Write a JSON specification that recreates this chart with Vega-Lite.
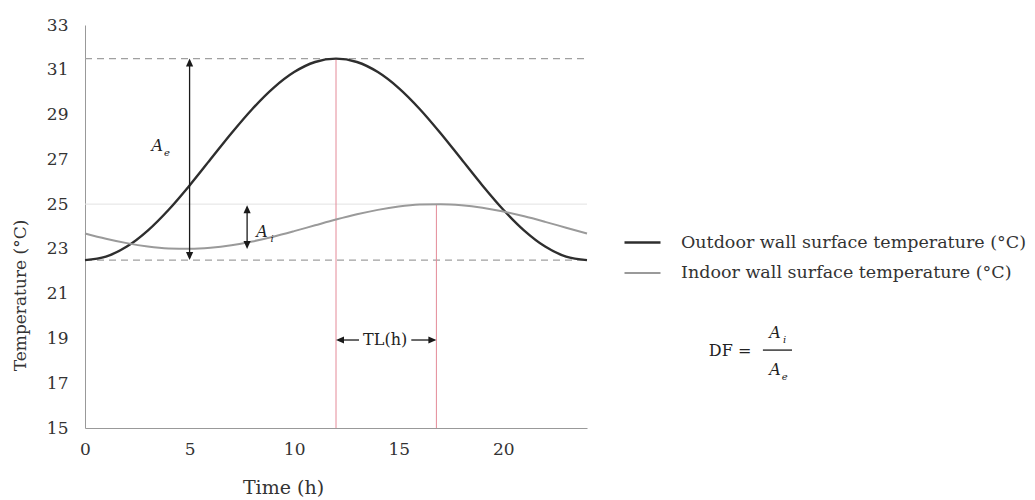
{
  "$schema": "https://vega.github.io/schema/vega-lite/v6.json",
  "width": 502,
  "height": 403,
  "autosize": {"type": "none"},
  "padding": {"left": 85, "top": 25, "right": 448, "bottom": 72},
  "background": "white",
  "config": {
    "view": {"stroke": null},
    "font": "DejaVu Serif",
    "axis": {
      "labelFont": "DejaVu Serif",
      "titleFont": "DejaVu Serif",
      "labelColor": "#333",
      "titleColor": "#333",
      "titleFontWeight": "normal",
      "domainColor": "#999",
      "ticks": false,
      "tickSize": 0,
      "grid": false,
      "labelFlush": false
    }
  },
  "datasets": {
    "curves": [
      {"t": 0, "temp": 22.5, "series": "Outdoor wall surface temperature (°C)"},
      {"t": 1, "temp": 22.653, "series": "Outdoor wall surface temperature (°C)"},
      {"t": 2, "temp": 23.103, "series": "Outdoor wall surface temperature (°C)"},
      {"t": 3, "temp": 23.818, "series": "Outdoor wall surface temperature (°C)"},
      {"t": 4, "temp": 24.75, "series": "Outdoor wall surface temperature (°C)"},
      {"t": 5, "temp": 25.835, "series": "Outdoor wall surface temperature (°C)"},
      {"t": 6, "temp": 27.0, "series": "Outdoor wall surface temperature (°C)"},
      {"t": 7, "temp": 28.165, "series": "Outdoor wall surface temperature (°C)"},
      {"t": 8, "temp": 29.25, "series": "Outdoor wall surface temperature (°C)"},
      {"t": 9, "temp": 30.182, "series": "Outdoor wall surface temperature (°C)"},
      {"t": 10, "temp": 30.897, "series": "Outdoor wall surface temperature (°C)"},
      {"t": 11, "temp": 31.347, "series": "Outdoor wall surface temperature (°C)"},
      {"t": 12, "temp": 31.5, "series": "Outdoor wall surface temperature (°C)"},
      {"t": 13, "temp": 31.347, "series": "Outdoor wall surface temperature (°C)"},
      {"t": 14, "temp": 30.897, "series": "Outdoor wall surface temperature (°C)"},
      {"t": 15, "temp": 30.182, "series": "Outdoor wall surface temperature (°C)"},
      {"t": 16, "temp": 29.25, "series": "Outdoor wall surface temperature (°C)"},
      {"t": 17, "temp": 28.165, "series": "Outdoor wall surface temperature (°C)"},
      {"t": 18, "temp": 27.0, "series": "Outdoor wall surface temperature (°C)"},
      {"t": 19, "temp": 25.835, "series": "Outdoor wall surface temperature (°C)"},
      {"t": 20, "temp": 24.75, "series": "Outdoor wall surface temperature (°C)"},
      {"t": 21, "temp": 23.818, "series": "Outdoor wall surface temperature (°C)"},
      {"t": 22, "temp": 23.103, "series": "Outdoor wall surface temperature (°C)"},
      {"t": 23, "temp": 22.653, "series": "Outdoor wall surface temperature (°C)"},
      {"t": 24, "temp": 22.5, "series": "Outdoor wall surface temperature (°C)"},
      {"t": 0, "temp": 23.691, "series": "Indoor wall surface temperature (°C)"},
      {"t": 1, "temp": 23.455, "series": "Indoor wall surface temperature (°C)"},
      {"t": 2, "temp": 23.257, "series": "Indoor wall surface temperature (°C)"},
      {"t": 3, "temp": 23.109, "series": "Indoor wall surface temperature (°C)"},
      {"t": 4, "temp": 23.022, "series": "Indoor wall surface temperature (°C)"},
      {"t": 5, "temp": 23.001, "series": "Indoor wall surface temperature (°C)"},
      {"t": 6, "temp": 23.049, "series": "Indoor wall surface temperature (°C)"},
      {"t": 7, "temp": 23.161, "series": "Indoor wall surface temperature (°C)"},
      {"t": 8, "temp": 23.331, "series": "Indoor wall surface temperature (°C)"},
      {"t": 9, "temp": 23.546, "series": "Indoor wall surface temperature (°C)"},
      {"t": 10, "temp": 23.792, "series": "Indoor wall surface temperature (°C)"},
      {"t": 11, "temp": 24.052, "series": "Indoor wall surface temperature (°C)"},
      {"t": 12, "temp": 24.309, "series": "Indoor wall surface temperature (°C)"},
      {"t": 13, "temp": 24.545, "series": "Indoor wall surface temperature (°C)"},
      {"t": 14, "temp": 24.743, "series": "Indoor wall surface temperature (°C)"},
      {"t": 15, "temp": 24.891, "series": "Indoor wall surface temperature (°C)"},
      {"t": 16, "temp": 24.978, "series": "Indoor wall surface temperature (°C)"},
      {"t": 17, "temp": 24.999, "series": "Indoor wall surface temperature (°C)"},
      {"t": 18, "temp": 24.951, "series": "Indoor wall surface temperature (°C)"},
      {"t": 19, "temp": 24.839, "series": "Indoor wall surface temperature (°C)"},
      {"t": 20, "temp": 24.669, "series": "Indoor wall surface temperature (°C)"},
      {"t": 21, "temp": 24.454, "series": "Indoor wall surface temperature (°C)"},
      {"t": 22, "temp": 24.208, "series": "Indoor wall surface temperature (°C)"},
      {"t": 23, "temp": 23.948, "series": "Indoor wall surface temperature (°C)"},
      {"t": 24, "temp": 23.691, "series": "Indoor wall surface temperature (°C)"}
    ],
    "refLight": [{"y": 25, "x1": 0, "x2": 24}],
    "refDashed": [
      {"y": 31.5, "x1": 0, "x2": 24},
      {"y": 22.5, "x1": 0, "x2": 24}
    ],
    "redLines": [
      {"x": 12, "y1": 15, "y2": 31.5},
      {"x": 16.8, "y1": 15, "y2": 25}
    ],
    "shafts": [
      {"x1": 5, "x2": 5, "y1": 22.6, "y2": 31.4},
      {"x1": 7.75, "x2": 7.75, "y1": 23.1, "y2": 24.85},
      {"x1": 12.1, "x2": 13.1, "y1": 18.93, "y2": 18.93},
      {"x1": 15.6, "x2": 16.7, "y1": 18.93, "y2": 18.93},
      {"x1": 32.41, "x2": 33.8, "y1": 18.48, "y2": 18.48}
    ],
    "heads": [
      {"x": 5, "y": 31.5, "dir": "up"},
      {"x": 5, "y": 22.5, "dir": "down"},
      {"x": 7.75, "y": 24.95, "dir": "up"},
      {"x": 7.75, "y": 23.0, "dir": "down"},
      {"x": 12.0, "y": 18.93, "dir": "left"},
      {"x": 16.8, "y": 18.93, "dir": "right"}
    ],
    "italicA": [
      {"x": 3.45, "y": 27.6, "label": "A"},
      {"x": 8.46, "y": 23.75, "label": "A"},
      {"x": 32.99, "y": 19.24, "label": "A"},
      {"x": 32.99, "y": 17.59, "label": "A"}
    ],
    "subs": [
      {"x": 3.92, "y": 27.3, "label": "e"},
      {"x": 8.95, "y": 23.45, "label": "i"},
      {"x": 33.45, "y": 18.94, "label": "i"},
      {"x": 33.45, "y": 17.29, "label": "e"}
    ],
    "plainText": [
      {"x": 14.35, "y": 18.93, "label": "TL(h)"},
      {"x": 30.84, "y": 18.42, "label": "DF ="}
    ]
  },
  "layer": [
    {
      "data": {"name": "refLight"},
      "mark": {"type": "rule", "color": "#e2e2e2", "strokeWidth": 1},
      "encoding": {
        "x": {"field": "x1", "type": "quantitative", "scale": {"domain": [0, 24], "nice": false, "zero": false},
          "axis": {"values": [0, 5, 10, 15, 20], "labelFontSize": 17, "labelPadding": 13, "title": "Time (h)", "titleFontSize": 19, "titleX": 198, "titleY": 59, "titleBaseline": "middle"}},
        "x2": {"field": "x2"},
        "y": {"field": "y", "type": "quantitative", "scale": {"domain": [15, 33], "nice": false, "zero": false},
          "axis": {"values": [15, 17, 19, 21, 23, 25, 27, 29, 31, 33], "labelFontSize": 17, "labelPadding": 17, "title": "Temperature (°C)", "titleFontSize": 17, "titleX": -65, "titleY": 270, "titleBaseline": "middle", "titleAngle": -90}}
      }
    },
    {
      "data": {"name": "refDashed"},
      "mark": {"type": "rule", "color": "#a0a0a0", "strokeWidth": 1.2, "strokeDash": [7, 5]},
      "encoding": {
        "x": {"field": "x1", "type": "quantitative"},
        "x2": {"field": "x2"},
        "y": {"field": "y", "type": "quantitative"}
      }
    },
    {
      "data": {"name": "redLines"},
      "mark": {"type": "rule", "color": "#e48a98", "strokeWidth": 1},
      "encoding": {
        "x": {"field": "x", "type": "quantitative"},
        "y": {"field": "y1", "type": "quantitative"},
        "y2": {"field": "y2"}
      }
    },
    {
      "data": {"name": "curves"},
      "mark": {"type": "line", "interpolate": "monotone"},
      "encoding": {
        "x": {"field": "t", "type": "quantitative"},
        "y": {"field": "temp", "type": "quantitative"},
        "color": {
          "field": "series", "type": "nominal",
          "scale": {"domain": ["Outdoor wall surface temperature (°C)", "Indoor wall surface temperature (°C)"], "range": ["#2e2e2e", "#9a9a9a"]},
          "legend": {
            "title": null, "orient": "none", "legendX": 538, "legendY": 198,
            "symbolType": "stroke", "symbolSize": 1296, "symbolStrokeWidth": 2.2,
            "labelFont": "DejaVu Serif", "labelFontSize": 17.5, "labelColor": "#333",
            "labelOffset": 19, "rowPadding": 3, "padding": 0, "labelLimit": 500
          }
        },
        "strokeWidth": {
          "field": "series", "type": "nominal",
          "scale": {"domain": ["Outdoor wall surface temperature (°C)", "Indoor wall surface temperature (°C)"], "range": [2.4, 2]},
          "legend": null
        }
      }
    },
    {
      "data": {"name": "shafts"},
      "mark": {"type": "rule", "color": "#1a1a1a", "strokeWidth": 1.3},
      "encoding": {
        "x": {"field": "x1", "type": "quantitative"},
        "x2": {"field": "x2"},
        "y": {"field": "y1", "type": "quantitative"},
        "y2": {"field": "y2"}
      }
    },
    {
      "data": {"name": "heads"},
      "mark": {"type": "point", "filled": true, "color": "#1a1a1a", "size": 64, "opacity": 1},
      "encoding": {
        "x": {"field": "x", "type": "quantitative"},
        "y": {"field": "y", "type": "quantitative"},
        "shape": {
          "field": "dir", "type": "nominal", "legend": null,
          "scale": {"domain": ["up", "down", "left", "right"],
            "range": ["M0,0L-0.9,2L0.9,2Z", "M0,0L-0.9,-2L0.9,-2Z", "M0,0L2,-0.9L2,0.9Z", "M0,0L-2,-0.9L-2,0.9Z"]}
        }
      }
    },
    {
      "data": {"name": "italicA"},
      "mark": {"type": "text", "font": "DejaVu Serif", "fontStyle": "italic", "fontSize": 16, "color": "#222", "baseline": "middle", "align": "center"},
      "encoding": {
        "x": {"field": "x", "type": "quantitative"},
        "y": {"field": "y", "type": "quantitative"},
        "text": {"field": "label"}
      }
    },
    {
      "data": {"name": "subs"},
      "mark": {"type": "text", "font": "DejaVu Serif", "fontStyle": "italic", "fontSize": 10, "color": "#222", "baseline": "middle", "align": "center"},
      "encoding": {
        "x": {"field": "x", "type": "quantitative"},
        "y": {"field": "y", "type": "quantitative"},
        "text": {"field": "label"}
      }
    },
    {
      "data": {"name": "plainText"},
      "mark": {"type": "text", "font": "DejaVu Serif", "fontSize": 16, "color": "#222", "baseline": "middle", "align": "center"},
      "encoding": {
        "x": {"field": "x", "type": "quantitative"},
        "y": {"field": "y", "type": "quantitative"},
        "text": {"field": "label"}
      }
    }
  ]
}
